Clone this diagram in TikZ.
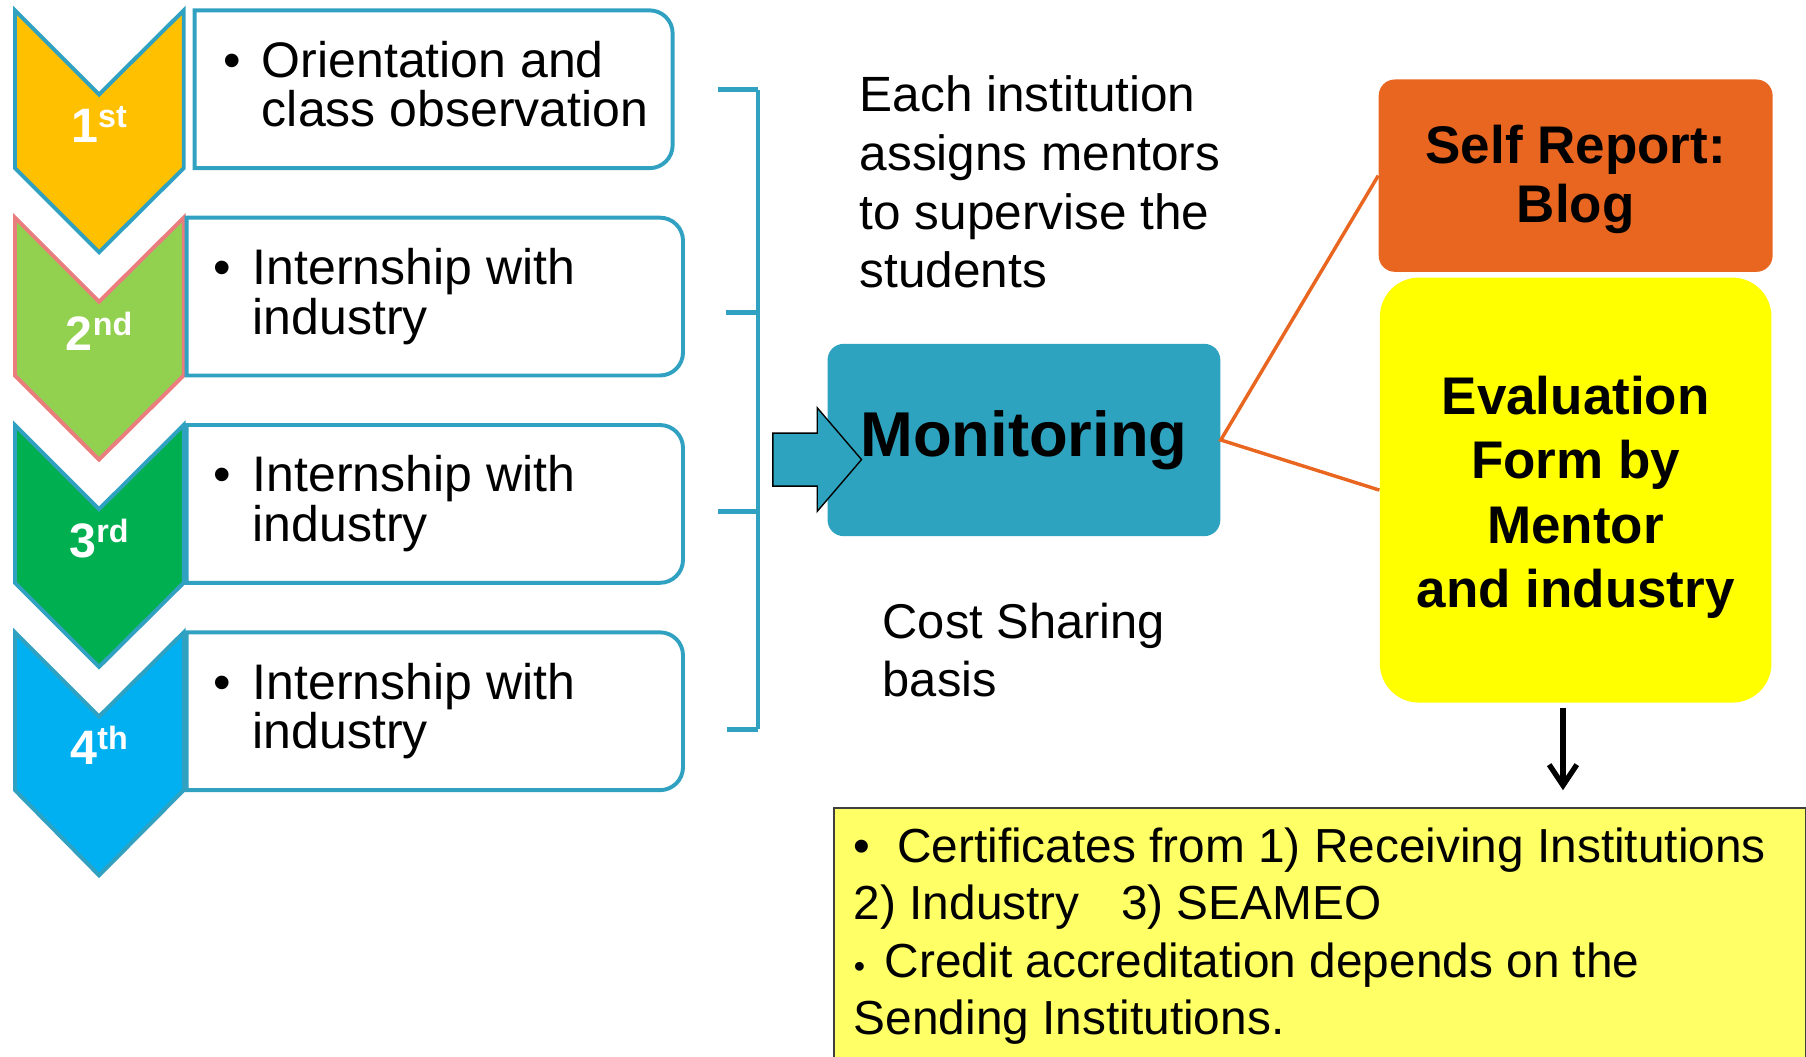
\documentclass[tikz,border=0pt]{standalone}
\usepackage{fontspec}
\setmainfont{Liberation Sans}
\usetikzlibrary{arrows.meta}

\definecolor{tealline}{RGB}{49,161,193}
\definecolor{tealfill}{RGB}{46,163,191}
\definecolor{chevgold}{RGB}{255,192,0}
\definecolor{chevlime}{RGB}{146,208,80}
\definecolor{chevpink}{RGB}{234,126,126}
\definecolor{chevgreen}{RGB}{0,176,80}
\definecolor{chevblue}{RGB}{0,176,240}
\definecolor{reporange}{RGB}{233,102,32}
\definecolor{evalyellow}{RGB}{255,255,0}
\definecolor{certyellow}{RGB}{255,255,102}
\definecolor{certline}{RGB}{64,64,64}

\newcommand{\termord}[2]{#1\raisebox{6.5pt}{\fontsize{14}{14}\selectfont #2}}

\begin{document}
\begin{tikzpicture}[x=0.5pt,y=-0.5pt,
	chevron/.style={line width=1.7pt,draw=tealline},
	stepbox/.style={line width=1.7pt,draw=tealline,fill=white},
	steptext/.style={anchor=base west,align=left,inner sep=0pt,font=\fontsize{21.7}{21.5}\selectfont},
	bullet/.style={anchor=base,inner sep=0pt,font=\fontsize{21.7}{21.5}\selectfont},
	steplabel/.style={anchor=base,inner sep=0pt,text=white,font=\fontsize{21}{21}\selectfont\bfseries},
	note/.style={anchor=base west,align=left,inner sep=0pt,font=\fontsize{21.5}{25.5}\selectfont},
	panel/.style={rounded corners=7pt,inner sep=0pt,align=center}]
	\useasboundingbox (0,0) rectangle (1568,917);

	% the four terms
	\filldraw[chevron,fill=chevgold] (13,9) -- (86,82) -- (159.5,9) -- (159.5,146) -- (86,219) -- (13,146) -- cycle;
	\filldraw[chevron,fill=chevlime,draw=chevpink] (13,189) -- (86,262) -- (159.5,189) -- (159.5,326) -- (86,399) -- (13,326) -- cycle;
	\filldraw[chevron,fill=chevgreen] (13,369) -- (86,442) -- (159.5,369) -- (159.5,506) -- (86,579) -- (13,506) -- cycle;
	\filldraw[chevron,fill=chevblue] (13,549) -- (86,622) -- (159.5,549) -- (159.5,686) -- (86,760) -- (13,686) -- cycle;
	\node[steplabel] (ord1) at (86,124) {\termord{1}{st}};
	\node[steplabel] (ord2) at (86,304) {\termord{2}{nd}};
	\node[steplabel] (ord3) at (86,484) {\termord{3}{rd}};
	\node[steplabel] (ord4) at (86,664) {\termord{4}{th}};

	% activity boxes (text anchored at the last baseline)
	\draw[stepbox] (380,146) -- (169,146) -- (169,9) [rounded corners=10pt] -- (584,9) -- (584,146) -- cycle;
	\draw[stepbox] (380,326) -- (162,326) -- (162,189) [rounded corners=10pt] -- (593,189) -- (593,326) -- cycle;
	\draw[stepbox] (380,506) -- (162,506) -- (162,369) [rounded corners=10pt] -- (593,369) -- (593,506) -- cycle;
	\draw[stepbox] (380,686) -- (162,686) -- (162,549) [rounded corners=10pt] -- (593,549) -- (593,686) -- cycle;
	\node[bullet] (dot1) at (202,67) {\textbullet};
	\node[steptext] (step1) at (227,110) {Orientation and\\class observation};
	\node[bullet] (dot2) at (193,247) {\textbullet};
	\node[steptext] (step2) at (219,290) {Internship with\\industry};
	\node[bullet] (dot3) at (193,427) {\textbullet};
	\node[steptext] (step3) at (219,470) {Internship with\\industry};
	\node[bullet] (dot4) at (193,607) {\textbullet};
	\node[steptext] (step4) at (219,650) {Internship with\\industry};

	% bracket
	\draw[tealline,line width=1.5pt] (658,78) -- (658,633);
	\draw[tealline,line width=2.2pt] (623,78) -- (658,78) (630,271) -- (658,271) (623,444) -- (658,444) (631,633) -- (658,633);

	\node[note] (mentors) at (746,250) {Each institution\\assigns mentors\\to supervise the\\students};
	\node[note,font=\fontsize{21.2}{25.5}\selectfont] (cost) at (766,605) {Cost Sharing\\basis};

	% monitoring
	\node[panel,fill=tealfill,minimum width=170.5pt,minimum height=83.5pt,font=\fontsize{27.5}{27.5}\selectfont\bfseries] (monitor) at (889,382) {Monitoring};
	\draw[fill=tealfill,line width=0.6pt] (671,376) -- (709.5,376) -- (709.5,354) -- (748,399) -- (709.5,444) -- (709.5,422) -- (671,422) -- cycle;

	\node[panel,fill=reporange,minimum width=171pt,minimum height=83.5pt,font=\fontsize{23}{25.5}\selectfont\bfseries] (selfrep) at (1368,152.5) {\rule{0pt}{20pt}Self Report:\\Blog};
	\node[panel,fill=evalyellow,rounded corners=17pt,minimum width=170pt,minimum height=184.5pt,font=\fontsize{23}{28}\selectfont\bfseries] (eval) at (1368,425.5) {\rule{0pt}{23pt}Evaluation\\Form by\\Mentor\\and industry};
	\draw[reporange,line width=1.5pt] (selfrep.west) -- (monitor.east) -- (eval.west);

	% outcome
	\node[draw=certline,fill=certyellow,line width=0.8pt,anchor=north west,minimum width=422pt,minimum height=115pt,inner sep=0pt] (cert) at (723,701) {};
	\node[note,font=\fontsize{20.75}{25}\selectfont] (certtext) at (741,898.5) {\textbullet\hspace{11.5pt}Certificates from 1) Receiving Institutions\\2) Industry\hspace{18pt}3) SEAMEO\\{\fontsize{14}{14}\selectfont\textbullet}\hspace{8.5pt}Credit accreditation depends on the\\Sending Institutions.};
	\draw[line width=2.3pt,-{Straight Barb[length=9pt,width=12pt]},shorten <=2pt,shorten >=7.5pt] ([xshift=-5.5pt]eval.south) -- ([xshift=-5.5pt]eval.south |- cert.north);
\end{tikzpicture}
\end{document}
